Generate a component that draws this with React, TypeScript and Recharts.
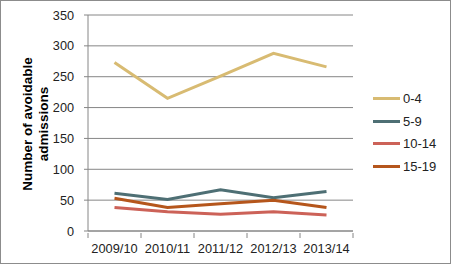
import { CartesianGrid, Line, LineChart, XAxis, YAxis } from "recharts"

// 年度ごとの回避可能入院数
const years = ["2009/10", "2010/11", "2011/12", "2012/13", "2013/14"]
const age0to4 = [273, 215, 251, 288, 266]
const age5to9 = [61, 51, 67, 54, 64]
const age10to14 = [38, 31, 27, 31, 26]
const age15to19 = [53, 38, 44, 50, 38]
const yTicks = [0, 50, 100, 150, 200, 250, 300, 350]

const series = [
  { key: "a", name: "0-4", values: age0to4, color: "#D8BB72" },
  { key: "b", name: "5-9", values: age5to9, color: "#4E6F74" },
  { key: "c", name: "10-14", values: age10to14, color: "#CC6258" },
  { key: "d", name: "15-19", values: age15to19, color: "#B5561C" },
]

const data = years.map((year, i) => {
  const row: Record<string, string | number> = { year }
  series.forEach((s) => (row[s.key] = s.values[i]))
  return row
})

const FONT = "'Liberation Sans', Arial, sans-serif"
const GRID = "#868686"
const BAND = 53

function XTick(props: any) {
  const { x, y, payload, index } = props
  const top = y - 6
  return (
    <g>
      <line x1={x - BAND / 2} y1={top} x2={x - BAND / 2} y2={top + 5} stroke={GRID} />
      {index === years.length - 1 && (
        <line x1={x + BAND / 2} y1={top} x2={x + BAND / 2} y2={top + 5} stroke={GRID} />
      )}
      <text x={x} y={y + 14} textAnchor="middle" fontSize={12.8} fontFamily={FONT} fill="#222">
        {payload.value}
      </text>
    </g>
  )
}

function LegendBox() {
  return (
    <div style={{ position: "absolute", left: 372, top: 86, fontFamily: FONT, fontSize: 13, color: "#222" }}>
      {series.map((s) => (
        <div key={s.key} style={{ display: "flex", alignItems: "center", height: 22.7 }}>
          <div style={{ width: 27, height: 3, background: s.color, marginRight: 3 }} />
          <span>{s.name}</span>
        </div>
      ))}
    </div>
  )
}

export default function App() {
  return (
    <div
      style={{
        position: "absolute",
        left: 0,
        top: 0,
        width: 449,
        height: 262,
        border: "1px solid #8c8c8c",
        background: "#fff",
      }}
    >
      <LineChart width={449} height={262} data={data} margin={{ top: 14, right: 97, bottom: 0, left: 0 }}>
        <CartesianGrid vertical={false} stroke={GRID} strokeDasharray="" />
        <XAxis
          dataKey="year"
          stroke={GRID}
          tickLine={false}
          tick={<XTick />}
          height={32}
          interval={0}
          padding={{ left: BAND / 2, right: BAND / 2 }}
        />
        <YAxis
          domain={[0, 350]}
          ticks={yTicks}
          width={87}
          stroke={GRID}
          tickSize={4}
          tickMargin={10}
          tick={{ fontSize: 12.7, fontFamily: FONT, fill: "#222" }}
          label={{
            content: () => (
              <text
                transform="translate(31,123) rotate(-90)"
                textAnchor="middle"
                fontSize={13.5}
                fontWeight="bold"
                fontFamily={FONT}
                fill="#000"
              >
                <tspan x={0} dy={0}>Number of avoidable</tspan>
                <tspan x={0} dy={15.5}>admissions</tspan>
              </text>
            ),
          }}
        />
        {series.map((s) => (
          <Line
            key={s.key}
            dataKey={s.key}
            name={s.name}
            stroke={s.color}
            strokeWidth={3}
            dot={false}
            isAnimationActive={false}
          />
        ))}
      </LineChart>
      <LegendBox />
    </div>
  )
}
